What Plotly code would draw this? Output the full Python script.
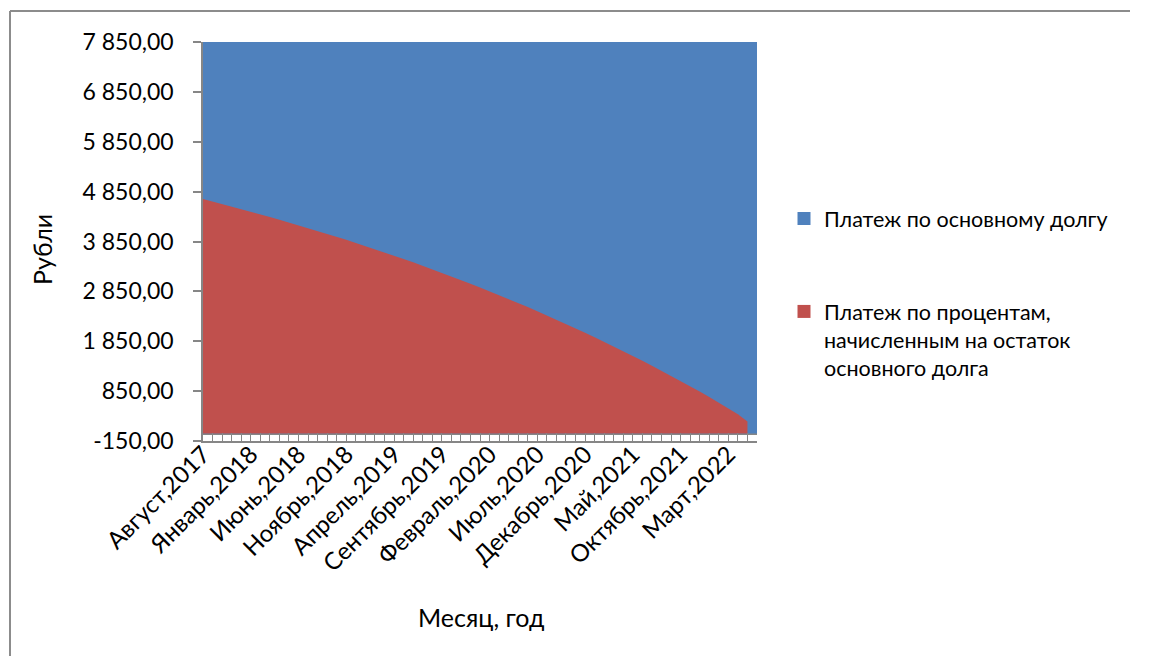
import plotly.graph_objects as go

# ---- data ----
month_names = ["Январь", "Февраль", "Март", "Апрель", "Май", "Июнь", "Июль",
               "Август", "Сентябрь", "Октябрь", "Ноябрь", "Декабрь"]
start_month_idx = 7   # Август
start_year = 2017
n_months = 59

# Платеж по процентам (interest part), Aug 2017 .. May 2022
interest = [4700, 4651, 4602, 4551, 4500, 4448, 4395, 4342, 4288, 4232,
            4176, 4119, 4062, 4003, 3943, 3883, 3821, 3759, 3695, 3631,
            3565, 3499, 3432, 3363, 3294, 3223, 3151, 3078, 3004, 2929,
            2853, 2776, 2697, 2617, 2536, 2454, 2370, 2285, 2199, 2111,
            2022, 1932, 1840, 1747, 1652, 1556, 1459, 1360, 1259, 1157,
            1053, 948, 841, 732, 620, 505, 385, 240]
# Платеж по основному долгу (principal part), Aug 2017 .. Jun 2022
principal = [3150, 3199, 3248, 3299, 3350, 3402, 3455, 3508, 3562, 3618,
             3674, 3731, 3788, 3847, 3907, 3967, 4029, 4091, 4155, 4219,
             4285, 4351, 4418, 4487, 4556, 4627, 4699, 4772, 4846, 4921,
             4997, 5074, 5153, 5233, 5314, 5396, 5480, 5565, 5651, 5739,
             5828, 5918, 6010, 6103, 6198, 6294, 6391, 6490, 6591, 6693,
             6797, 6902, 7009, 7118, 7230, 7345, 7465, 7610, 7850]

y_ticks = [-150, 850, 1850, 2850, 3850, 4850, 5850, 6850, 7850]

# category labels
categories = []
for k in range(n_months):
    m = (start_month_idx + k) % 12
    yr = start_year + (start_month_idx + k) // 12
    categories.append(f"{month_names[m]},{yr}")
label_step = 5

x_idx = list(range(n_months))
x_int = list(range(len(interest)))
totals = [p + (interest[i] if i < len(interest) else 0) for i, p in enumerate(principal)]


def fmt(v):
    s = f"{abs(v):,.2f}".replace(",", " ").replace(".", ",")
    return ("-" if v < 0 else "") + s


BLUE = "#4F81BD"
RED = "#C0504D"
GREY = "#868686"
FONT = "Lato"
FS = 23

fig = go.Figure()
fig.add_trace(go.Scatter(x=x_idx, y=totals, mode="lines", fill="tozeroy",
                         fillcolor=BLUE, line=dict(width=0, color=BLUE),
                         showlegend=False, hoverinfo="skip"))
fig.add_trace(go.Scatter(x=x_int, y=interest, mode="lines", fill="tozeroy",
                         fillcolor=RED, line=dict(width=0, color=RED),
                         showlegend=False, hoverinfo="skip"))
# legend entries
fig.add_trace(go.Scatter(x=[None], y=[None], mode="markers", name="Платеж по основному долгу",
                         marker=dict(symbol="square", size=13, color=BLUE),
                         legendgroup="a"))
fig.add_trace(go.Scatter(x=[None], y=[None], mode="markers",
                         name="Платеж по процентам,<br>начисленным на остаток<br>основного долга",
                         marker=dict(symbol="square", size=13, color=RED),
                         legendgroup="b"))

L, R, T, B = 203, 757, 42, 441
W, H = 1152, 656
pw, ph = R - L, B - T


def px(xp):
    return (xp - L) / pw


def py(yp):
    return (B - yp) / ph


fig.update_layout(
    width=W, height=H,
    margin=dict(l=L, r=W - R, t=T, b=H - B, pad=0),
    paper_bgcolor="white", plot_bgcolor="white",
    font=dict(family=FONT, size=FS, color="black"),
    xaxis=dict(range=[0, n_months - 1], tickvals=x_idx,
               ticktext=[c if i % label_step == 0 else "" for i, c in enumerate(categories)],
               tickangle=-45, ticks="inside", ticklen=8, tickcolor=GREY, tickwidth=1,
               showline=True, linecolor=GREY, linewidth=1.5, showgrid=False,
               zeroline=False, ticklabelstandoff=-12, tickfont=dict(family=FONT, size=24)),
    yaxis=dict(range=[y_ticks[0], y_ticks[-1]], tickvals=y_ticks,
               ticktext=[fmt(v) for v in y_ticks], ticks="outside", ticklen=8,
               tickcolor=GREY, tickwidth=1.5, showline=True, linecolor=GREY, linewidth=1.5,
               showgrid=True, gridcolor=GREY, gridwidth=1.5,
               zeroline=True, zerolinecolor=GREY, zerolinewidth=1.5,
               ticklabelstandoff=15, tickfont=dict(family=FONT, size=FS)),
    legend=dict(x=px(784), y=py(198), xanchor="left", yanchor="top",
                traceorder="grouped", tracegroupgap=62, valign="top",
                font=dict(family=FONT, size=21.5), bgcolor="rgba(0,0,0,0)"),
    annotations=[
        dict(text="Рубли", x=px(42), y=py(250), xref="paper", yref="paper",
             xanchor="center", yanchor="middle",
             showarrow=False, textangle=-90, font=dict(family=FONT, size=25)),
        dict(text="Месяц, год", x=px(481), y=py(617), xref="paper", yref="paper",
             xanchor="center", yanchor="middle",
             showarrow=False, font=dict(family=FONT, size=25)),
    ],
    shapes=[
        dict(type="line", xref="paper", yref="paper",
             x0=px(10), x1=px(10), y0=py(H), y1=py(11),
             line=dict(color="#8C8C8C", width=2), layer="below"),
        dict(type="line", xref="paper", yref="paper",
             x0=px(10), x1=px(1130), y0=py(11), y1=py(11),
             line=dict(color="#8C8C8C", width=2), layer="below"),
    ],
)

fig.write_html("out.html")
